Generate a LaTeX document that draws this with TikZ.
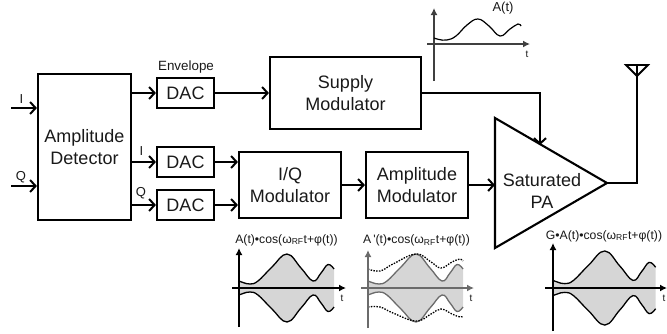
\documentclass[tikz,border=0pt]{standalone}
\usepackage{fontspec}
\setmainfont{Liberation Sans}
\usetikzlibrary{arrows.meta,calc}
\definecolor{ink}{gray}{0.1}
\definecolor{fillg}{gray}{0.84}
\definecolor{axg}{gray}{0.42}
\tikzset{
  blockbox/.style={draw=black,line width=2.1pt,inner sep=0pt,align=center,font=\fontsize{18}{21.5}\selectfont,text=ink},
  dacbox/.style={blockbox,minimum width=57pt,minimum height=30pt},
  wire/.style={line width=2.1pt,black},
  arr/.style={wire,-{Straight Barb[length=5.5pt,width=12pt,line width=2pt]}},
  lab/.style={inner sep=0pt,text=ink,font=\fontsize{13}{15}\selectfont},
  siglab/.style={inner sep=0pt,text=ink,font=\fontsize{12.2}{15}\selectfont},
  tlab/.style={inner sep=0pt,text=ink,font=\fontsize{10}{12}\selectfont},
  axis/.style={line width=1.4pt,-{Latex[length=7pt,width=7pt]}},
  curve/.style={line width=1.3pt,black},
  dots/.style={line width=1.3pt,dash pattern=on 1.5pt off 1.3pt},
  sm/.style={smooth,tension=0.7},
}
\newcommand{\envpts}{(0,-7) (4,-5.5) (11,-4) (19,-7) (33,-21) (48,-34) (62,-20) (74,-7) (82,-15) (89,-23.5) (95,-19)}
\newcommand{\envptsrev}{(95,19) (89,23.5) (82,15) (74,7) (62,20) (48,34) (33,21) (19,7) (11,4) (4,5.5) (0,7)}
\newcommand{\envdots}{(0,-19) (12,-17) (25,-24) (48,-34) (63,-26) (73,-20) (84,-26) (92,-29) (95,-27)}
\newcommand{\envdotslow}{(0,19) (12,19) (25,25) (48,33) (63,26) (73,21) (84,26) (92,29) (95,28)}
\begin{document}
\begin{tikzpicture}[x=1pt,y=-1pt]
\useasboundingbox (0,0) rectangle (667,333);
% blocks
\node[blockbox,minimum width=93pt,minimum height=146pt] (det) at (84.5,147) {Amplitude\\Detector};
\node[dacbox] (dac1) at (185.5,93) {DAC};
\node[dacbox] (dac2) at (185.5,162) {DAC};
\node[dacbox] (dac3) at (185.5,205) {DAC};
\node[blockbox,minimum width=151pt,minimum height=72pt] (sup) at (345.5,93) {Supply\\Modulator};
\node[blockbox,minimum width=102pt,minimum height=66pt] (iq) at (290,185) {I/Q\\Modulator};
\node[blockbox,minimum width=102pt,minimum height=66pt] (am) at (417,185) {Amplitude\\Modulator};
% PA
\coordinate (patl) at (495,118);
\coordinate (pabl) at (495,248);
\coordinate (patip) at (607,183);
\coordinate (paup) at (540,145);
\coordinate (ant) at (637,76);
\draw[wire,line join=miter] (patl) -- (patip) -- (pabl) -- cycle;
\node[inner sep=0pt,align=center,text=ink,font=\fontsize{18}{21.5}\selectfont] (pa) at (542,191) {Saturated\\PA};
% antenna
\coordinate (antl) at (626,65);
\coordinate (antr) at (648,65);
\coordinate (antt) at (637,65);
\draw[line width=1.8pt] (antl) -- (antr) -- (ant) -- cycle;
\draw[line width=1.4pt] (antt) -- (ant);
% connectors
\coordinate (inI) at (11,108);
\coordinate (inQ) at (11,186);
\draw[arr] (inI) -- (det.west |- inI);
\draw[arr] (inQ) -- (det.west |- inQ);
\draw[arr] (det.east |- dac1) -- (dac1.west);
\draw[arr] (det.east |- dac2) -- (dac2.west);
\draw[arr] (det.east |- dac3) -- (dac3.west);
\draw[arr] (dac1.east) -- (sup.west |- dac1);
\draw[arr] (dac2.east) -- (iq.west |- dac2);
\draw[arr] (dac3.east) -- (iq.west |- dac3);
\draw[arr] (iq.east) -- (am.west);
\draw[arr] (am.east) -- (patl |- am);
\draw[arr] (sup.east) -| (paup);
\draw[wire] (patip) -| (ant);
% labels
\node[lab] (lI) at (21.5,99) {I};
\node[lab] (lQ) at (21,177) {Q};
\node[lab,font=\fontsize{13.4}{15}\selectfont] (lE) at (186,67) {Envelope};
\node[lab] (lI2) at (141.5,151) {I};
\node[lab] (lQ2) at (141,193.5) {Q};
% chart A(t)
\draw[axis,black!75] (434,81) -- (434,8);
\draw[axis,black!75] (427,44) -- (530,44);
\draw[line width=1.2pt,shift={(434,44)}] plot[sm] coordinates {(0,-6) (5,-4.5) (13,-4) (22,-8) (33,-19) (44,-25) (55,-18) (66,-8) (76,-15) (84,-20) (87,-18)};
\node[lab] (l0) at (503,8) {A(t)};
\node[tlab] (t0) at (527,54) {t};
% chart 1
\begin{scope}[shift={(239,288)}]
\fill[fillg] plot[sm] coordinates \envpts -- plot[sm] coordinates \envptsrev -- cycle;
\draw[curve] plot[sm] coordinates \envpts;
\draw[curve] plot[sm] coordinates \envptsrev;
\draw[axis] (0,39) -- (0,-40);
\draw[axis] (-7,0) -- (107,0);
\end{scope}
\node[siglab] (l1) at (286.5,240) {A(t)•cos(ω\textsubscript{RF}t+φ(t))};
\node[tlab] (t1) at (342,298) {t};
% chart 2
\begin{scope}[shift={(368,288)}]
\fill[fillg] plot[sm] coordinates \envpts -- plot[sm] coordinates \envptsrev -- cycle;
\draw[curve,axg] plot[sm] coordinates \envpts;
\draw[curve,axg] plot[sm] coordinates \envptsrev;
\draw[dots] plot[sm] coordinates \envdots;
\draw[dots] plot[sm] coordinates \envdotslow;
\draw[axis,axg] (0,40) -- (0,-38);
\draw[axis,axg] (-7,0) -- (106,0);
\end{scope}
\node[siglab] (l2) at (416.5,240.5) {A\,\textquotesingle(t)•cos(ω\textsubscript{RF}t+φ(t))};
\node[tlab] (t2) at (471,298) {t};
% chart 3
\begin{scope}[shift={(553,288)},xscale=1.08,yscale=1.09]
\fill[fillg] plot[sm] coordinates \envpts -- plot[sm] coordinates \envptsrev -- cycle;
\draw[curve] plot[sm] coordinates \envpts;
\draw[curve] plot[sm] coordinates \envptsrev;
\end{scope}
\draw[axis] (553,331) -- (553,243);
\draw[axis] (545,288) -- (667,288);
\node[siglab] (l3) at (604,236) {G•A(t)•cos(ω\textsubscript{RF}t+φ(t))};
\node[tlab] (t3) at (664,298) {t};
\end{tikzpicture}
\end{document}
